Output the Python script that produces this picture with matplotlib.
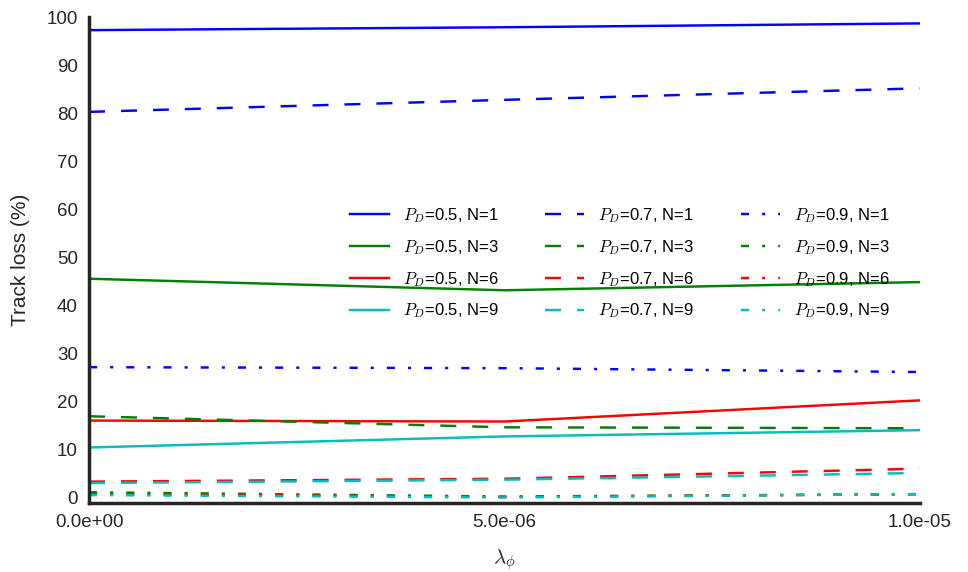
import numpy as np
import matplotlib
matplotlib.use('Agg')
import matplotlib.pyplot as plt
from matplotlib.ticker import FormatStrFormatter

# lambda_phi values
lam = [0.0, 5e-6, 1e-5]

# Track loss (%) per detection probability and N
pd_values = ['0.5', '0.7', '0.9']
n_values = [1, 3, 6, 9]

loss_05 = {1: [97.3, 97.9, 98.7],
           3: [45.6, 43.2, 44.9],
           6: [16.1, 15.9, 20.3],
           9: [10.5, 12.8, 14.1]}
loss_07 = {1: [80.3, 82.8, 85.2],
           3: [17.0, 14.7, 14.5],
           6: [3.4, 4.0, 6.1],
           9: [3.1, 3.8, 5.2]}
loss_09 = {1: [27.2, 27.0, 26.2],
           3: [1.2, 0.3, 0.8],
           6: [0.8, 0.2, 0.8],
           9: [0.6, 0.1, 0.8]}

colors = {1: 'b', 3: 'g', 6: 'r', 9: 'c'}
# dash patterns in points (not scaled with line width)
linestyles = {'0.5': '-', '0.7': (0, (11.5, 11.5)), '0.9': (0, (5.8, 9.4, 2.2, 9.4))}

plt.rcParams['font.family'] = ['Liberation Sans', 'DejaVu Sans']
plt.rcParams['mathtext.fontset'] = 'cm'
plt.rcParams['lines.scale_dashes'] = False

fig = plt.figure(figsize=(9.68, 5.72), dpi=100)
ax = fig.add_axes([0.092, 0.121, 0.858, 0.849])

for p, data in zip(pd_values, [loss_05, loss_07, loss_09]):
    for n in n_values:
        ax.plot(lam, data[n], color=colors[n], linestyle=linestyles[p], linewidth=1.75,
                label=r'$P_D$=' + p + ', N=' + str(n))

ax.set_xlim(0, 1e-5)
ax.set_ylim(-1, 100)
ax.set_xticks([0, 5e-6, 1e-5])
ax.set_yticks(range(0, 101, 10))
ax.xaxis.set_major_formatter(FormatStrFormatter('%.1e'))
ax.tick_params(length=0, labelsize=13.5, colors='0.15', pad=8)

for side in ['top', 'right']:
    ax.spines[side].set_visible(False)
for side in ['left', 'bottom']:
    ax.spines[side].set_linewidth(2.5)
    ax.spines[side].set_color('0.15')

ax.set_xlabel(r'$\lambda_\phi$', fontsize=15, color='0.15', labelpad=12)
ax.set_ylabel('Track loss (%)', fontsize=15, color='0.15', labelpad=12)

ax.legend(ncol=3, frameon=False, fontsize=12, loc='upper left',
          bbox_to_anchor=(350 / 968, 1 - 206 / 572), bbox_transform=fig.transFigure,
          borderpad=0, borderaxespad=0, handlelength=2.33, handletextpad=0.85,
          columnspacing=2.8, labelspacing=0.78)

plt.savefig('out.png', dpi=100)
